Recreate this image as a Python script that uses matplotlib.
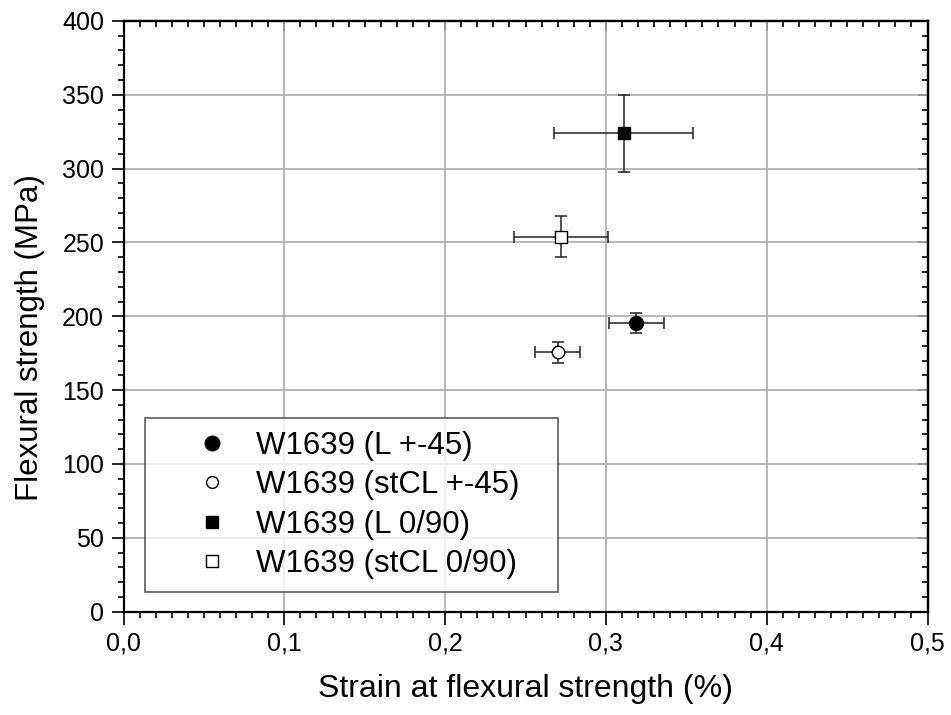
import matplotlib
matplotlib.use("Agg")
import matplotlib.pyplot as plt
from matplotlib.ticker import MultipleLocator, FuncFormatter

plt.rcParams['font.family'] = ['Liberation Sans', 'DejaVu Sans']

# data
labels = ['W1639 (L +-45)', 'W1639 (stCL +-45)', 'W1639 (L 0/90)', 'W1639 (stCL 0/90)']
strain = [0.319, 0.270, 0.311, 0.272]
strain_err = [0.017, 0.014, 0.043, 0.029]
strength = [195.5, 175.6, 324.0, 254.0]
strength_err = [7.0, 7.0, 26.0, 14.0]
markers = ['o', 'o', 's', 's']
faces = ['black', 'white', 'black', 'white']
msizes = [10, 9, 8.5, 8]
leg_sizes = [10.5, 8.5, 8, 8]

fig = plt.figure(figsize=(9.51, 7.15), dpi=100)
ax = fig.add_axes([0.1299, 0.1445, 0.8454, 0.8262])

for i in range(len(labels)):
    ax.errorbar(strain[i], strength[i], xerr=strain_err[i], yerr=strength_err[i],
                fmt='none', ecolor='#222222', elinewidth=1.1, capsize=4.5,
                capthick=1.1, zorder=3)
    ax.plot(strain[i], strength[i], ls='none', marker=markers[i], ms=msizes[i],
            mfc=faces[i], mec='black', mew=1.0, zorder=4)

ax.set_xlim(0, 0.5)
ax.set_ylim(0, 400)
ax.xaxis.set_major_locator(MultipleLocator(0.1))
ax.xaxis.set_minor_locator(MultipleLocator(0.01))
ax.yaxis.set_major_locator(MultipleLocator(50))
ax.yaxis.set_minor_locator(MultipleLocator(10))
ax.xaxis.set_major_formatter(FuncFormatter(lambda v, p: ('%.1f' % v).replace('.', ',')))

ax.grid(True, which='major', color='#ababab', linewidth=1.2)
ax.set_axisbelow(True)

ax.tick_params(which='major', direction='out', length=9, width=1.2, labelsize=18, pad=5)
ax.tick_params(which='minor', direction='out', length=4.5, width=1.2)
for s in ax.spines.values():
    s.set_linewidth(1.6)

# top and right: inward ticks, no labels
top = ax.secondary_xaxis('top')
top.xaxis.set_major_locator(MultipleLocator(0.1))
top.xaxis.set_minor_locator(MultipleLocator(0.01))
top.tick_params(which='both', direction='in', width=1.2, labeltop=False)
top.tick_params(which='major', length=7)
top.tick_params(which='minor', length=4)
top.spines['top'].set_linewidth(1.6)
right = ax.secondary_yaxis('right')
right.yaxis.set_major_locator(MultipleLocator(50))
right.yaxis.set_minor_locator(MultipleLocator(10))
right.tick_params(which='both', direction='in', width=1.2, labelright=False)
right.tick_params(which='major', length=7)
right.tick_params(which='minor', length=4)
right.spines['right'].set_linewidth(1.6)

ax.set_xlabel('Strain at flexural strength (%)', fontsize=23)
ax.set_ylabel('Flexural strength (MPa)', fontsize=22.5)
ax.xaxis.set_label_coords(0.5, -0.106)
ax.yaxis.set_label_coords(-0.098, 0.464)

handles = [plt.Line2D([], [], ls='none', marker=markers[i], ms=leg_sizes[i],
                      mfc=faces[i], mec='black', mew=1.0) for i in range(len(labels))]
leg = ax.legend(handles, labels, loc='lower left', bbox_to_anchor=(0.027, 0.033, 0.514, 0.295),
                mode='expand', fontsize=22.5, frameon=True, fancybox=False,
                edgecolor='#333333', handletextpad=-0.32, borderpad=0.42,
                labelspacing=0.3, handlelength=3.46, borderaxespad=0)
leg.get_frame().set_linewidth(1.2)

fig.savefig('out.png', dpi=100)
